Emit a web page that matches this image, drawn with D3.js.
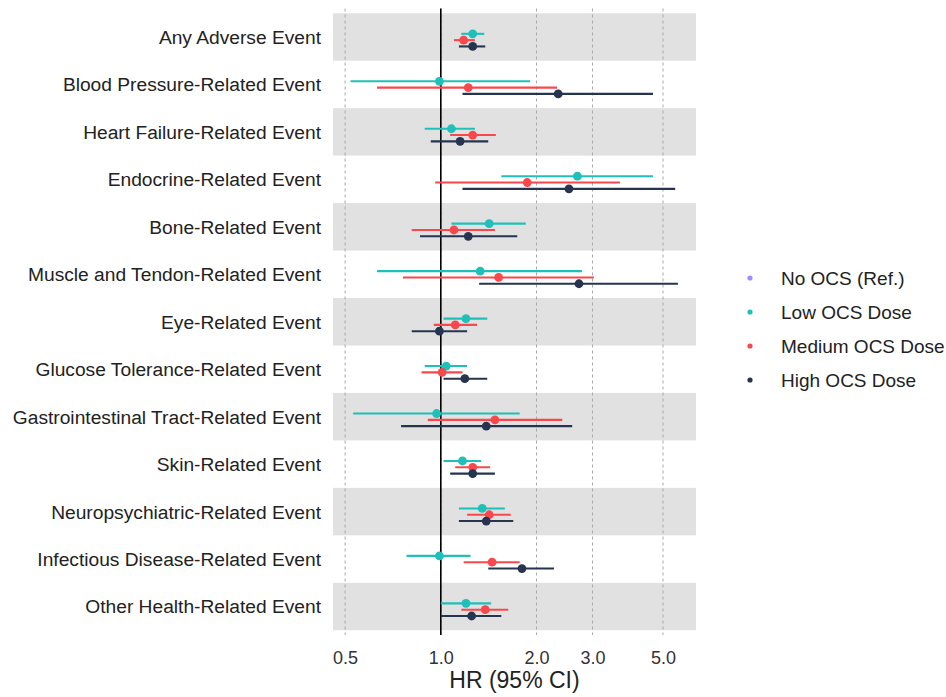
<!DOCTYPE html>
<html><head><meta charset="utf-8">
<script src="https://cdn.jsdelivr.net/npm/d3@7"></script>
<style>body{margin:0;background:#fff;} svg{display:block;font-family:"Liberation Sans",Arial,sans-serif;}</style>
</head><body>
<svg id="chart" width="946" height="697"></svg>
<script>
const categories = [
  "Any Adverse Event","Blood Pressure-Related Event","Heart Failure-Related Event",
  "Endocrine-Related Event","Bone-Related Event","Muscle and Tendon-Related Event",
  "Eye-Related Event","Glucose Tolerance-Related Event","Gastrointestinal Tract-Related Event",
  "Skin-Related Event","Neuropsychiatric-Related Event","Infectious Disease-Related Event",
  "Other Health-Related Event"
];
const groups = ["No OCS (Ref.)","Low OCS Dose","Medium OCS Dose","High OCS Dose"];
const groupColors = ["#9F8CFF","#1FBFBA","#F8484B","#27344F"];
// HR point estimates and 95% CI per group (same order as categories)
const lowHR  = [1.26,0.99,1.08,2.69,1.42,1.33,1.20,1.04,0.97,1.17,1.35,0.99,1.20];
const lowLo  = [1.16,0.52,0.89,1.55,1.08,0.63,1.02,0.89,0.53,1.02,1.14,0.78,1.00];
const lowHi  = [1.37,1.91,1.28,4.65,1.85,2.78,1.40,1.21,1.77,1.34,1.59,1.24,1.44];
const medHR  = [1.18,1.22,1.26,1.87,1.10,1.52,1.11,1.01,1.48,1.26,1.42,1.45,1.38];
const medLo  = [1.10,0.63,1.07,0.96,0.81,0.76,0.95,0.87,0.91,1.11,1.21,1.18,1.16];
const medHi  = [1.28,2.32,1.49,3.66,1.48,3.03,1.30,1.17,2.41,1.43,1.66,1.77,1.63];
const highHR = [1.26,2.34,1.15,2.53,1.22,2.72,0.99,1.19,1.39,1.26,1.39,1.80,1.25];
const highLo = [1.14,1.17,0.93,1.17,0.86,1.32,0.81,1.02,0.75,1.07,1.14,1.41,1.00];
const highHi = [1.38,4.65,1.41,5.46,1.74,5.57,1.21,1.40,2.59,1.48,1.69,2.27,1.55];
const xTicks = [0.5,1.0,2.0,3.0,5.0];

const series = [
  {g:1, hr:lowHR, lo:lowLo, hi:lowHi},
  {g:2, hr:medHR, lo:medLo, hi:medHi},
  {g:3, hr:highHR, lo:highLo, hi:highHi}
];

const svg = d3.select("#chart");
const panel = {left:333, right:696, top:8.5, bottom:635};

const x = d3.scaleLog().domain([0.458, 6.35]).range([panel.left, panel.right]);
const y = d3.scaleBand().domain(categories).range([panel.top, panel.bottom]).paddingOuter(0.1).paddingInner(0);
const bw = y.bandwidth();
const dodge = d3.scaleLinear().domain([0,3]).range([-1.5*0.133*bw, 1.5*0.133*bw]);

// stripes
svg.append("g").selectAll("rect").data(categories.filter((d,i)=>i%2===0)).join("rect")
  .attr("x", panel.left).attr("width", panel.right-panel.left)
  .attr("y", d=>y(d)).attr("height", bw).attr("fill","#E1E1E1");

// vertical grid lines
svg.append("g").selectAll("line").data(xTicks).join("line")
  .attr("x1", d=>x(d)).attr("x2", d=>x(d)).attr("y1", panel.top).attr("y2", panel.bottom)
  .attr("stroke","#A8A8A8").attr("stroke-width",1).attr("stroke-dasharray","3,3");

// reference line at 1
svg.append("line").attr("x1",x(1)).attr("x2",x(1)).attr("y1",panel.top).attr("y2",panel.bottom)
  .attr("stroke","#000").attr("stroke-width",1.6);

// data
series.forEach(s=>{
  const gEl = svg.append("g");
  const rows = categories.map((c,i)=>({c, hr:s.hr[i], lo:s.lo[i], hi:s.hi[i]}));
  const yy = d=> y(d.c)+bw/2+dodge(s.g);
  gEl.selectAll("line").data(rows).join("line")
    .attr("x1",d=>x(d.lo)).attr("x2",d=>x(d.hi)).attr("y1",yy).attr("y2",yy)
    .attr("stroke",groupColors[s.g]).attr("stroke-width",2.1);
  gEl.selectAll("circle").data(rows).join("circle")
    .attr("cx",d=>x(d.hr)).attr("cy",yy).attr("r",4.4).attr("fill",groupColors[s.g]);
});

// y axis labels
svg.append("g").selectAll("text").data(categories).join("text")
  .attr("x", 321).attr("y", d=>y(d)+bw/2).attr("dy","0.36em")
  .attr("text-anchor","end").attr("font-size",19.2).attr("fill","#222").text(d=>d);

// x axis
const xAxis = d3.axisBottom(x).tickValues(xTicks).tickFormat(d3.format(".1f")).tickSize(0).tickPadding(16);
const ax = svg.append("g").attr("transform",`translate(0,${panel.bottom})`).call(xAxis);
ax.select(".domain").remove();
ax.selectAll("text").attr("font-size",18).attr("fill","#333").attr("font-family","Liberation Sans, Arial, sans-serif");

svg.append("text").attr("x",(panel.left+panel.right)/2).attr("y",687.5)
  .attr("text-anchor","middle").attr("font-size",23).attr("fill","#222").text("HR (95% CI)");

// legend
const lg = svg.append("g").selectAll("g").data(groups).join("g")
  .attr("transform",(d,i)=>`translate(750,${278+i*34})`);
lg.append("circle").attr("r",2.6).attr("fill",(d,i)=>groupColors[i]);
lg.append("text").attr("x",31).attr("dy","0.36em").attr("font-size",19).attr("fill","#222").text(d=>d);
</script>
</body></html>
